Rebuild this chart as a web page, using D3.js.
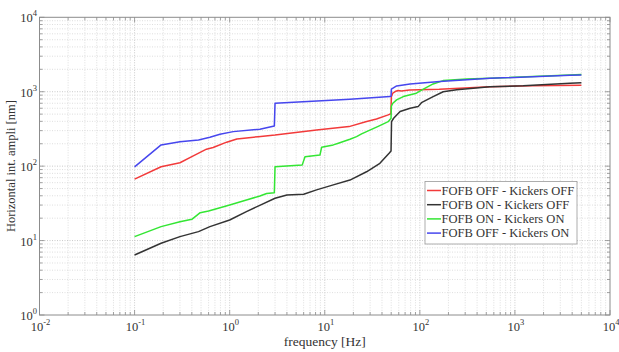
<!DOCTYPE html>
<html>
<head>
<meta charset="utf-8">
<script src="https://cdn.jsdelivr.net/npm/d3@7"></script>
<style>
  html, body { margin: 0; padding: 0; background: #fff; }
  svg { display: block; font-family: "Liberation Serif", "DejaVu Serif", serif; }
</style>
</head>
<body>
<svg id="chart" width="619" height="352"></svg>
<script>
// Integrated horizontal amplitude vs. frequency, four feedback configurations.
// Each series: [frequency Hz, amplitude nm]
const fofbOffKickOff = [
  [0.1, 67], [0.19, 98], [0.3, 111], [0.4, 134], [0.57, 169], [0.67, 178], [0.93, 210],
  [1.19, 232], [2.0, 249], [3.0, 262], [8.2, 307], [18, 340], [27, 396], [35, 430],
  [46.5, 488], [49.6, 505], [50.2, 860], [52, 960], [55, 1005], [59, 1036], [64, 1025],
  [78, 1056], [160, 1081], [546, 1170], [1500, 1200], [5000, 1223]
];
const fofbOnKickOff = [
  [0.1, 6.4], [0.19, 9.2], [0.3, 11.3], [0.47, 13.2], [0.62, 15.4], [1.0, 18.9], [1.5, 24.5],
  [2.1, 30], [3.0, 37], [4.0, 41], [6.0, 42], [8.2, 48], [12.3, 56], [18.4, 65], [27.5, 84],
  [38, 109], [47.5, 149], [49.8, 160], [50.4, 396], [53, 440], [62, 541], [79, 600],
  [96, 631], [104, 713], [138, 860], [176, 1000], [244, 1065], [546, 1170], [1222, 1200],
  [3790, 1300], [5000, 1325]
];
const fofbOnKickOn = [
  [0.1, 11.3], [0.19, 15.4], [0.3, 17.9], [0.4, 19.3], [0.49, 23.7], [0.6, 25], [1.0, 30],
  [1.5, 35], [2.08, 39.8], [2.45, 43], [2.95, 44], [3.0, 98], [5.8, 104], [6.2, 134],
  [8.9, 141], [9.27, 179], [12.3, 193], [13.9, 203], [15.7, 214], [18.4, 230], [21.6, 249],
  [24.4, 271], [27.5, 291], [36, 340], [46.5, 396], [49.8, 440], [50.2, 640], [52, 700],
  [57, 776], [67, 860], [92, 955], [109, 1081], [138, 1273], [176, 1410], [311, 1486],
  [546, 1513], [3790, 1683], [5000, 1700]
];
const fofbOffKickOn = [
  [0.1, 98], [0.19, 193], [0.3, 213], [0.47, 225], [0.62, 245], [0.79, 268], [1.09, 291],
  [2.08, 313], [2.95, 347], [3.0, 700], [5.9, 736], [18.4, 793], [48.5, 860], [49.8, 870],
  [50.2, 1081], [57, 1197], [79, 1273], [162, 1367], [546, 1513], [3790, 1662], [5000, 1675]
];

const seriesNames = [
  "FOFB OFF - Kickers OFF",
  "FOFB ON - Kickers OFF",
  "FOFB ON - Kickers ON",
  "FOFB OFF - Kickers ON"
];
const seriesData = [fofbOffKickOff, fofbOnKickOff, fofbOnKickOn, fofbOffKickOn];
const seriesColors = ["#f23a3a", "#333333", "#33e633", "#4646ee"];

const xDecades = [-2, -1, 0, 1, 2, 3, 4];
const yDecades = [0, 1, 2, 3, 4];
const xLabel = "frequency [Hz]";
const yLabel = "Horizontal int. ampli [nm]";

const svg = d3.select("#chart");
const L = 39.5, R = 610, T = 17.3, B = 315;

const x = d3.scaleLog().domain([1e-2, 1e4]).range([L, R]);
const y = d3.scaleLog().domain([1, 1e4]).range([B, T]);

// minor and major positions for grid and ticks
function logPositions(decs) {
  const out = [];
  for (let i = 0; i < decs.length - 1; i++) {
    for (let m = 1; m <= 9; m++) out.push({ v: m * Math.pow(10, decs[i]), major: m === 1 });
  }
  out.push({ v: Math.pow(10, decs[decs.length - 1]), major: true });
  return out;
}
const xPos = logPositions(xDecades);
const yPos = logPositions(yDecades);

const grid = svg.append("g");
grid.selectAll("line.gx").data(xPos.filter(d => d.v > 1e-2 && d.v < 1e4)).enter().append("line")
  .attr("x1", d => x(d.v)).attr("x2", d => x(d.v)).attr("y1", T).attr("y2", B)
  .attr("stroke", d => d.major ? "#bdbdbd" : "#d6d6d6")
  .attr("stroke-width", 0.8)
  .attr("stroke-dasharray", "1,1.5");
grid.selectAll("line.gy").data(yPos.filter(d => d.v > 1 && d.v < 1e4)).enter().append("line")
  .attr("y1", d => y(d.v)).attr("y2", d => y(d.v)).attr("x1", L).attr("x2", R)
  .attr("stroke", d => d.major ? "#bdbdbd" : "#d6d6d6")
  .attr("stroke-width", 0.8)
  .attr("stroke-dasharray", "1,1.5");

// curves
const line = d3.line().x(d => x(d[0])).y(d => y(d[1]));
svg.append("g").selectAll("path").data(seriesData).enter().append("path")
  .attr("d", line)
  .attr("fill", "none")
  .attr("stroke", (d, i) => seriesColors[i])
  .attr("stroke-width", 1.5)
  .attr("stroke-linejoin", "round");

// frame and inward ticks on all sides
const axisColor = "#8c8c8c";
const ticks = svg.append("g").attr("stroke", axisColor).attr("stroke-width", 0.8);
xPos.forEach(d => {
  const len = d.major ? 5 : 3;
  ticks.append("line").attr("x1", x(d.v)).attr("x2", x(d.v)).attr("y1", B).attr("y2", B - len);
  ticks.append("line").attr("x1", x(d.v)).attr("x2", x(d.v)).attr("y1", T).attr("y2", T + len);
});
yPos.forEach(d => {
  const len = d.major ? 5 : 3;
  ticks.append("line").attr("y1", y(d.v)).attr("y2", y(d.v)).attr("x1", L).attr("x2", L + len);
  ticks.append("line").attr("y1", y(d.v)).attr("y2", y(d.v)).attr("x1", R).attr("x2", R - len);
});
svg.append("rect").attr("x", L).attr("y", T).attr("width", R - L).attr("height", B - T)
  .attr("fill", "none").attr("stroke", axisColor).attr("stroke-width", 1);

// tick labels as 10 with superscript exponent
const textColor = "#333";
function powLabel(g, px, py, exp, anchor) {
  const t = g.append("text").attr("x", px).attr("y", py)
    .attr("text-anchor", anchor).attr("fill", textColor).attr("font-size", 12.5);
  t.append("tspan").text("10");
  t.append("tspan").attr("font-size", 8.5).attr("dy", -6).text(String(exp));
}
const lab = svg.append("g");
xDecades.forEach(e => powLabel(lab, x(Math.pow(10, e)) + 1, 331, e, "middle"));
yDecades.forEach(e => powLabel(lab, 37, y(Math.pow(10, e)) + 5, e, "end"));

svg.append("text").attr("x", (L + R) / 2).attr("y", 346).attr("text-anchor", "middle")
  .attr("fill", textColor).attr("font-size", 13.5).text(xLabel);
svg.append("text").attr("transform", `translate(15,${(T + B) / 2}) rotate(-90)`)
  .attr("text-anchor", "middle").attr("fill", textColor).attr("font-size", 12.5).text(yLabel);

// legend
const lg = svg.append("g");
lg.append("rect").attr("x", 425).attr("y", 181.5).attr("width", 152).attr("height", 62.5)
  .attr("fill", "#fff").attr("stroke", "#999").attr("stroke-width", 0.8);
seriesNames.forEach((name, i) => {
  const yy = 190.5 + i * 14.2;
  lg.append("line").attr("x1", 427).attr("x2", 441).attr("y1", yy).attr("y2", yy)
    .attr("stroke", seriesColors[i]).attr("stroke-width", 1.5);
  lg.append("text").attr("x", 441.5).attr("y", yy + 4.3).attr("fill", textColor)
    .attr("font-size", 12.5).text(name);
});
</script>
</body>
</html>
